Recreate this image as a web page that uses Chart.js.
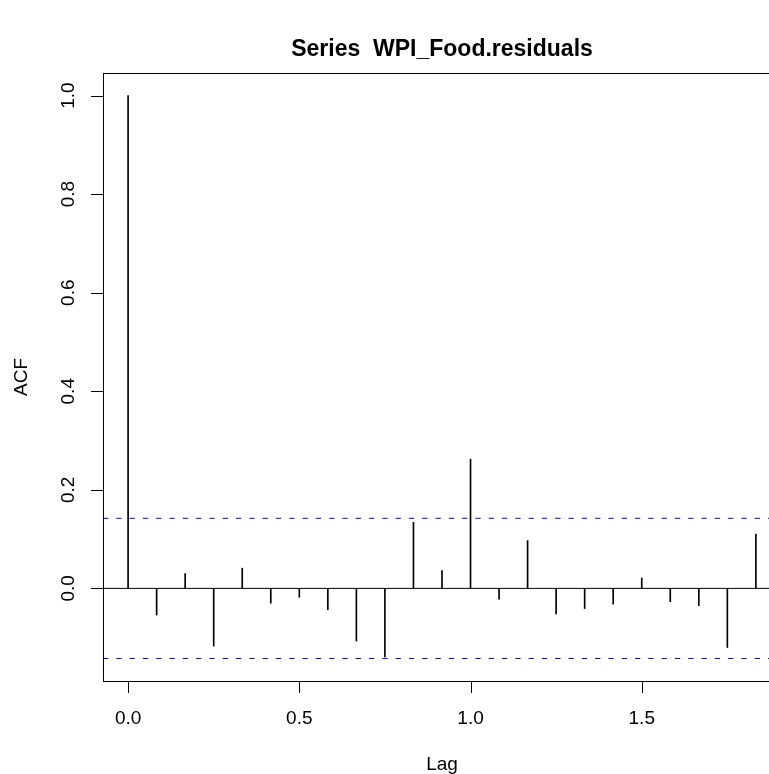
<!DOCTYPE html>
<html>
<head>
<meta charset="utf-8">
<script src="https://cdn.jsdelivr.net/npm/chart.js@4.4.1/dist/chart.umd.min.js"></script>
<style>
  html, body { margin: 0; padding: 0; background: #fff; overflow: hidden; }
  #wrap { width: 769px; height: 774px; overflow: hidden; position: relative; }
  canvas { display: block; }
</style>
</head>
<body>
<div id="wrap"><canvas id="acfChart" width="800" height="774"></canvas></div>
<script>
// ACF of residuals, lags in years (monthly series, 1/12 steps)
const lags = [0, 1, 2, 3, 4, 5, 6, 7, 8, 9, 10, 11, 12, 13, 14, 15, 16, 17, 18, 19, 20, 21, 22].map(k => k / 12);
const acfValues = [1.0, -0.054, 0.030, -0.117, 0.041, -0.030, -0.018, -0.043, -0.107, -0.139, 0.134, 0.036,
                   0.262, -0.022, 0.097, -0.052, -0.041, -0.032, 0.021, -0.027, -0.035, -0.120, 0.110];
const confLimit = 0.1422;
const xTicks = [0, 0.5, 1.0, 1.5];
const xTickLabels = ['0.0', '0.5', '1.0', '1.5'];
const yTicks = [0, 0.2, 0.4, 0.6, 0.8, 1.0];
const yTickLabels = ['0.0', '0.2', '0.4', '0.6', '0.8', '1.0'];

const xMin = -0.0733, xMax = 1.9067;
const yMin = -0.1879, yMax = 1.0457;

const FONT = '"Liberation Sans", Arial, Helvetica, sans-serif';

// R style box, ticks and labels drawn from the chart scales
const rAxes = {
    id: 'rAxes',
    afterDraw(chart) {
        const ctx = chart.ctx;
        const area = chart.chartArea;
        const x = chart.scales.x;
        const y = chart.scales.y;
        ctx.save();
        ctx.strokeStyle = '#000';
        ctx.lineWidth = 1;
        ctx.strokeRect(Math.round(area.left) + 0.5, Math.round(area.top) + 0.5,
            Math.round(area.right - area.left), Math.round(area.bottom - area.top));

        ctx.fillStyle = '#000';
        ctx.font = '19px ' + FONT;

        // x axis
        ctx.textAlign = 'center';
        ctx.textBaseline = 'alphabetic';
        xTicks.forEach((v, i) => {
            const px = Math.round(x.getPixelForValue(v)) + 0.5;
            ctx.beginPath();
            ctx.moveTo(px, area.bottom);
            ctx.lineTo(px, area.bottom + 12);
            ctx.stroke();
            ctx.fillText(xTickLabels[i], x.getPixelForValue(v), 723.5);
        });

        // y axis
        yTicks.forEach((v, i) => {
            const py = Math.round(y.getPixelForValue(v)) + 0.5;
            ctx.beginPath();
            ctx.moveTo(area.left - 12, py);
            ctx.lineTo(area.left, py);
            ctx.stroke();
            ctx.save();
            ctx.translate(68.5, y.getPixelForValue(v));
            ctx.rotate(-Math.PI / 2);
            ctx.textBaseline = 'middle';
            ctx.fillText(yTickLabels[i], 0, 0);
            ctx.restore();
        });

        // axis titles
        ctx.fillText('Lag', (area.left + area.right) / 2, 769.5);
        ctx.save();
        ctx.translate(22, (area.top + area.bottom) / 2);
        ctx.rotate(-Math.PI / 2);
        ctx.textBaseline = 'middle';
        ctx.fillText('ACF', 0, 0);
        ctx.restore();

        // main title
        ctx.font = 'bold 23px ' + FONT;
        ctx.fillText('Series  WPI_Food.residuals', (area.left + area.right) / 2, 56);
        ctx.restore();
    }
};

const spikes = lags.map((l, i) => ({ x: l, y: acfValues[i] }));
const hLine = v => [{ x: xMin, y: v }, { x: xMax, y: v }];

new Chart(document.getElementById('acfChart'), {
    type: 'bar',
    data: {
        datasets: [
            {
                type: 'line',
                data: hLine(0),
                borderColor: '#000',
                borderWidth: 1,
                pointRadius: 0
            },
            {
                type: 'line',
                data: hLine(confLimit),
                borderColor: '#0000ff',
                borderWidth: 1,
                borderDash: [5.3, 8],
                pointRadius: 0
            },
            {
                type: 'line',
                data: hLine(-confLimit),
                borderColor: '#0000ff',
                borderWidth: 1,
                borderDash: [5.3, 8],
                pointRadius: 0
            },
            {
                type: 'bar',
                data: spikes,
                backgroundColor: '#000',
                borderWidth: 0,
                barThickness: 1
            }
        ]
    },
    options: {
        responsive: false,
        animation: false,
        devicePixelRatio: 1,
        layout: { padding: { left: 103, top: 73, right: 19, bottom: 93 } },
        plugins: {
            legend: { display: false },
            title: { display: false },
            tooltip: { enabled: false }
        },
        scales: {
            x: { type: 'linear', min: xMin, max: xMax, offset: false, display: false },
            y: { type: 'linear', min: yMin, max: yMax, display: false }
        }
    },
    plugins: [rAxes]
});
</script>
</body>
</html>
